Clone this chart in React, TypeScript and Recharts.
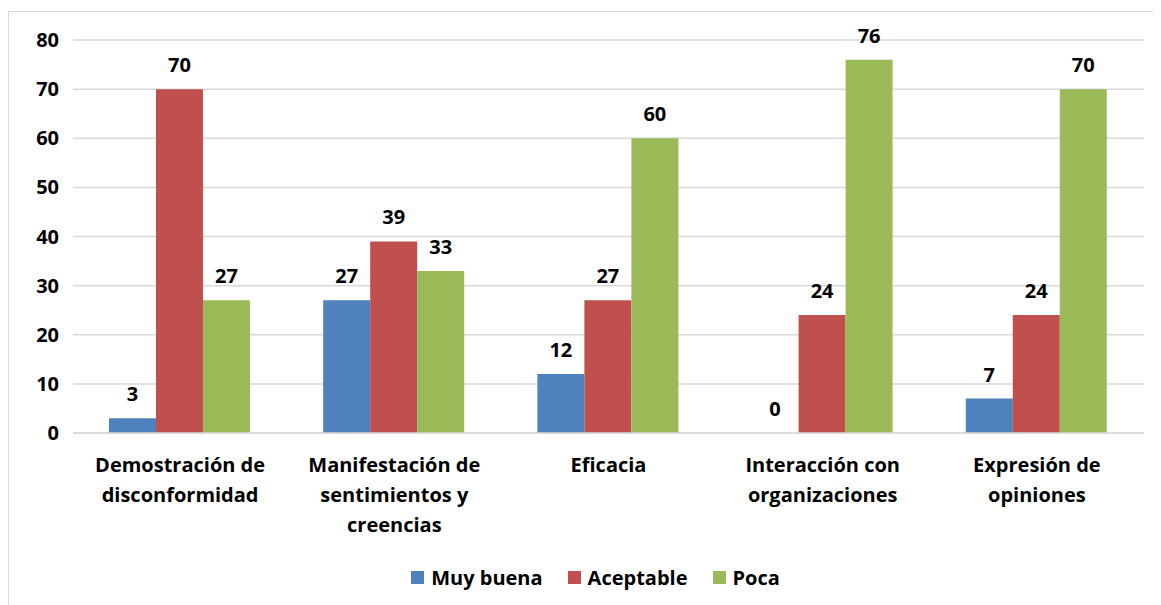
import React from "react";
import {
  BarChart,
  Bar,
  XAxis,
  YAxis,
  CartesianGrid,
  Legend,
  LabelList,
} from "recharts";

const categories = [
  "Demostración de\ndisconformidad",
  "Manifestación de\nsentimientos y\ncreencias",
  "Eficacia",
  "Interacción con\norganizaciones",
  "Expresión de\nopiniones",
];
const muyBuena = [3, 27, 12, 0, 7];
const aceptable = [70, 39, 27, 24, 24];
const poca = [27, 33, 60, 76, 70];
const yTicks = [0, 10, 20, 30, 40, 50, 60, 70, 80];

const series = [
  { key: "muyBuena", name: "Muy buena", color: "#4F81BD" },
  { key: "aceptable", name: "Aceptable", color: "#C0504D" },
  { key: "poca", name: "Poca", color: "#9BBB59" },
];

const data = categories.map((name, i) => ({
  name,
  muyBuena: muyBuena[i],
  aceptable: aceptable[i],
  poca: poca[i],
}));

const FONT = "'Open Sans', Lato, sans-serif";
const FS = 20;

function CategoryTick(props: any) {
  const { x, y, payload } = props;
  const lines = String(payload.value).split("\n");
  return (
    <text
      x={x}
      y={y}
      textAnchor="middle"
      fontFamily={FONT}
      fontWeight="bold"
      fontSize={FS}
      fill="#000"
    >
      {lines.map((line, i) => (
        <tspan key={i} x={x} dy={i === 0 ? 39 : 30}>
          {line}
        </tspan>
      ))}
    </text>
  );
}

function ValueLabel(props: any) {
  const { x, y, width, value } = props;
  return (
    <text
      x={Number(x) + Number(width) / 2}
      y={Number(y) - 17}
      textAnchor="middle"
      fontFamily={FONT}
      fontWeight="bold"
      fontSize={FS}
      fill="#000"
    >
      {value}
    </text>
  );
}

function LegendContent() {
  return (
    <div
      style={{
        height: 36,
        display: "flex",
        alignItems: "center",
        justifyContent: "center",
        gap: 25,
        paddingLeft: 38,
        fontFamily: FONT,
        fontWeight: "bold",
        fontSize: FS,
        color: "#000",
      }}
    >
      {series.map((s) => (
        <div key={s.key} style={{ display: "flex", alignItems: "center", gap: 7 }}>
          <span style={{ width: 13, height: 13, background: s.color, display: "inline-block" }} />
          <span>{s.name}</span>
        </div>
      ))}
    </div>
  );
}

// zero-valued bars still need a rect so their "0" label is drawn
const keepZero = (value: any) => (value === 0 ? 0.01 : 0);

export default function App() {
  return (
    <div style={{ paddingTop: 3 }}>
      <div
        style={{
          width: 1153,
          height: 594,
          borderTop: "1px solid #d9d9d9",
          borderLeft: "1px solid #d9d9d9",
          boxSizing: "border-box",
          background: "#fff",
        }}
      >
        <BarChart
          width={1152}
          height={593}
          data={data}
          margin={{ top: 28, right: 17, left: 0, bottom: 10 }}
          barCategoryGap="16.8%"
          barGap={0}
        >
          <CartesianGrid vertical={false} stroke="#d9d9d9" strokeWidth={1.5} />
          <XAxis
            dataKey="name"
            interval={0}
            height={126}
            tickLine={false}
            tickSize={0}
            tickMargin={0}
            axisLine={{ stroke: "#d9d9d9", strokeWidth: 1.5 }}
            tick={<CategoryTick />}
          />
          <YAxis
            width={64}
            domain={[0, 80]}
            ticks={yTicks}
            axisLine={false}
            tickLine={false}
            tickSize={0}
            tickMargin={14}
            tick={{ fontFamily: FONT, fontWeight: "bold", fontSize: FS, fill: "#000" }}
          />
          <Legend verticalAlign="bottom" height={36} content={<LegendContent />} />
          {series.map((s) => (
            <Bar
              key={s.key}
              dataKey={s.key}
              name={s.name}
              fill={s.color}
              minPointSize={keepZero}
              isAnimationActive={false}
            >
              <LabelList dataKey={s.key} content={<ValueLabel />} />
            </Bar>
          ))}
        </BarChart>
      </div>
    </div>
  );
}
